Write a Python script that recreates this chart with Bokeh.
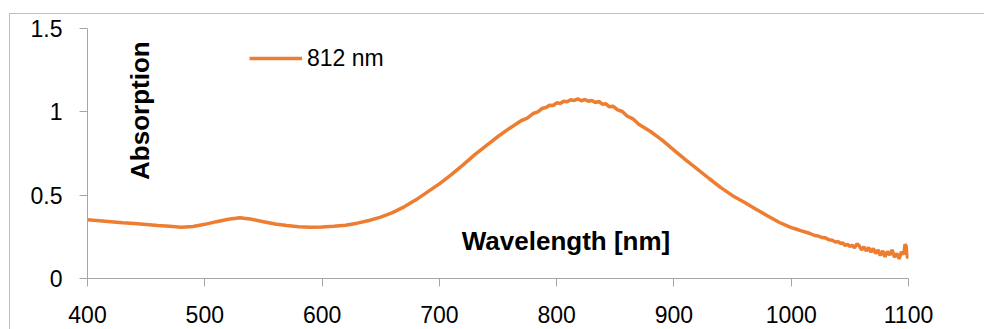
import math
from bokeh.plotting import figure
from bokeh.models import (ColumnDataSource, FixedTicker, Label, Legend, LegendItem, Range1d)
from bokeh.embed import file_html
from bokeh.resources import INLINE

# ---- data ----
wavelength = [400, 410, 420, 430, 440, 450, 460, 470, 480, 490,
              500, 510, 520, 530, 540, 550, 560, 570, 580, 590,
              600, 610, 620, 630, 640, 650, 660, 670, 680, 690,
              700, 710, 720, 730, 740, 750, 760, 770, 775, 780,
              784, 788, 791, 794, 797, 800, 803, 806, 809, 812,
              815, 818, 821, 824, 827, 830, 833, 836, 839, 842,
              845, 848, 852, 856, 860, 865, 870, 880, 890, 900,
              910, 920, 930, 940, 950, 960, 970, 980, 990, 1000,
              1004, 1008, 1012, 1016, 1020, 1023, 1026, 1029, 1032, 1035,
              1038, 1040, 1042, 1044, 1046, 1048, 1050, 1052, 1054, 1056,
              1058, 1060, 1062, 1064, 1066, 1068, 1070, 1072, 1074, 1076,
              1078, 1080, 1082, 1084, 1086, 1088, 1090, 1092, 1094, 1096,
              1097, 1098, 1099, 1100]
absorption = [0.353, 0.347, 0.341, 0.335, 0.330, 0.324, 0.318, 0.313, 0.308, 0.312,
              0.325, 0.341, 0.356, 0.364, 0.355, 0.340, 0.327, 0.318, 0.311, 0.308,
              0.309, 0.313, 0.320, 0.332, 0.348, 0.368, 0.395, 0.430, 0.472, 0.520,
              0.568, 0.622, 0.680, 0.742, 0.797, 0.852, 0.902, 0.948, 0.962, 0.990,
              1.000, 1.022, 1.026, 1.040, 1.038, 1.054, 1.050, 1.064, 1.060, 1.072,
              1.068, 1.078, 1.066, 1.074, 1.064, 1.068, 1.056, 1.062, 1.046, 1.048,
              1.030, 1.034, 1.012, 1.002, 0.975, 0.958, 0.925, 0.882, 0.830, 0.770,
              0.712, 0.656, 0.600, 0.545, 0.497, 0.458, 0.416, 0.375, 0.336, 0.305,
              0.297, 0.287, 0.279, 0.270, 0.258, 0.255, 0.246, 0.244, 0.233, 0.230,
              0.218, 0.222, 0.210, 0.214, 0.198, 0.206, 0.192, 0.200, 0.184, 0.208,
              0.196, 0.172, 0.190, 0.165, 0.186, 0.158, 0.180, 0.150, 0.172, 0.138,
              0.166, 0.130, 0.162, 0.140, 0.172, 0.128, 0.150, 0.118, 0.160, 0.145,
              0.205, 0.195, 0.130, 0.122]
series_name = "812 nm"
x_ticks = [400, 500, 600, 700, 800, 900, 1000, 1100]
y_ticks = [0, 0.5, 1, 1.5]
y_tick_labels = ["0", "0.5", "1", "1.5"]
x_title = "Wavelength [nm]"
y_title = "Absorption"

ORANGE = "#ED7D31"
AXIS_GRAY = "#a6a6a6"
TICK_FONT = "Liberation Sans"
TITLE_FONT = "Liberation Sans"

src = ColumnDataSource(dict(x=wavelength, y=absorption))

p = figure(width=975, height=316, output_backend="svg", toolbar_location=None,
           x_range=Range1d(400, 1100), y_range=Range1d(0, 1.5),
           min_border_left=77, min_border_right=77, min_border_top=14, min_border_bottom=52,
           margin=(13, 0, 0, 9),
           styles={"border-top": "1px solid #bfbfbf", "border-left": "1px solid #bfbfbf"})
p.outline_line_color = None
p.grid.visible = False
p.background_fill_color = "white"
p.border_fill_color = "white"

r = p.line("x", "y", source=src, line_color=ORANGE, line_width=3.5)

for ax in (p.xaxis[0], p.yaxis[0]):
    ax.axis_line_color = AXIS_GRAY
    ax.major_tick_line_color = AXIS_GRAY
    ax.major_tick_out = 8
    ax.major_tick_in = 0
    ax.minor_tick_line_color = None
    ax.major_label_text_font = TICK_FONT
    ax.major_label_text_font_size = "23px"
    ax.major_label_text_color = "black"

p.xaxis[0].ticker = FixedTicker(ticks=x_ticks)
p.xaxis[0].major_label_standoff = 19
p.yaxis[0].ticker = FixedTicker(ticks=y_ticks)
p.yaxis[0].major_label_overrides = {t: s for t, s in zip(y_ticks, y_tick_labels)}
p.yaxis[0].major_label_standoff = 17

p.add_layout(Label(x=808, y=0.225, text=x_title, text_align="center",
                   text_baseline="alphabetic", text_font=TITLE_FONT,
                   text_font_style="bold", text_font_size="26px", text_color="black"))
p.add_layout(Label(x=445, y=1.007, text=y_title, angle=math.pi / 2,
                   text_align="center", text_baseline="alphabetic", text_font=TITLE_FONT,
                   text_font_style="bold", text_font_size="26px", text_color="black"))

legend = Legend(items=[LegendItem(label=series_name, renderers=[r])],
                location=(162, 205), glyph_width=53, glyph_height=30, label_height=30,
                label_standoff=5, padding=0, margin=0, border_line_alpha=0,
                background_fill_alpha=0, label_text_font=TICK_FONT,
                label_text_font_size="23px", label_text_color="black")
p.add_layout(legend)

open("out.html", "w").write(file_html(p, INLINE))
